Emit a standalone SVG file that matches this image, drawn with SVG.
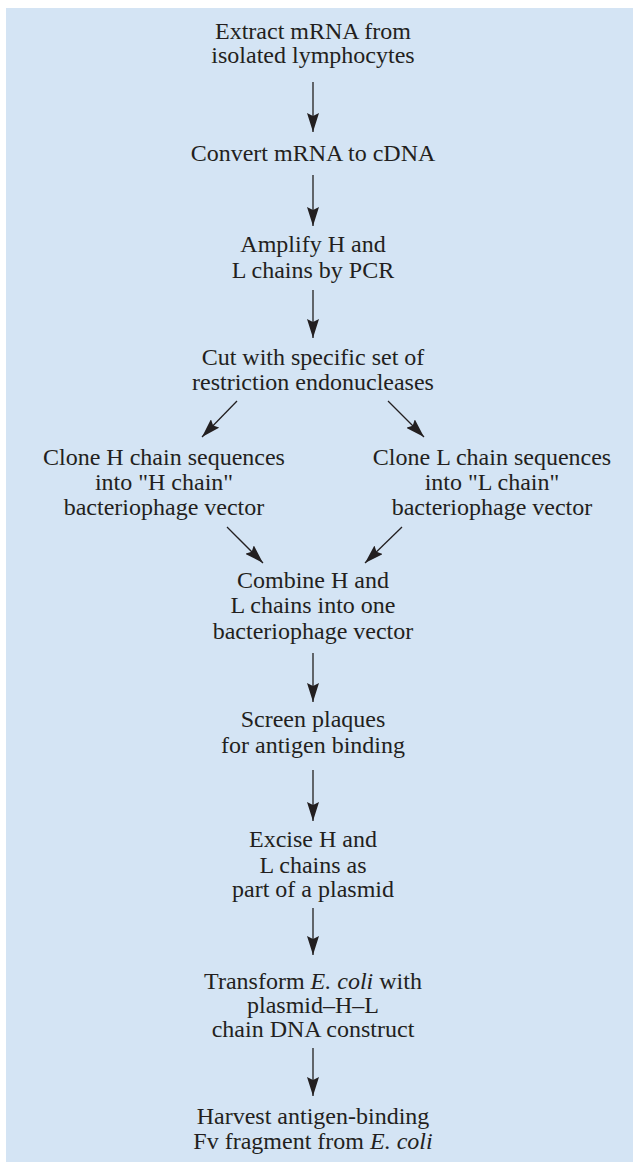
<svg xmlns="http://www.w3.org/2000/svg" width="635" height="1162" viewBox="0 0 635 1162">
<style>
text{font-family:"Liberation Serif","Times New Roman",serif;font-size:24px;fill:#231f20;text-anchor:middle}
.i{font-style:italic}
.c{stroke:#231f20;stroke-width:1.3;fill:none;marker-end:url(#ah)}
</style>
<defs>
<marker id="ah" markerUnits="userSpaceOnUse" markerWidth="20" markerHeight="12" refX="19" refY="6" orient="auto">
<path d="M0,0 L19,6 L0,12 L3,6 z" fill="#231f20"/>
</marker>
</defs>
<rect x="6" y="8" width="627" height="1154" fill="#d4e4f4"/>
<g id="n1"><text x="313" y="39">Extract mRNA from</text><text x="313" y="63">isolated lymphocytes</text></g>
<g id="n2"><text x="313" y="161">Convert mRNA to cDNA</text></g>
<g id="n3"><text x="313" y="252">Amplify H and</text><text x="313" y="278">L chains by PCR</text></g>
<g id="n4"><text x="313" y="365">Cut with specific set of</text><text x="313" y="390">restriction endonucleases</text></g>
<g id="n5"><text x="164" y="465">Clone H chain sequences</text><text x="164" y="490">into "H chain"</text><text x="164" y="515">bacteriophage vector</text></g>
<g id="n6"><text x="492" y="465">Clone L chain sequences</text><text x="492" y="490">into "L chain"</text><text x="492" y="515">bacteriophage vector</text></g>
<g id="n7"><text x="313" y="588">Combine H and</text><text x="313" y="613">L chains into one</text><text x="313" y="639">bacteriophage vector</text></g>
<g id="n8"><text x="313" y="727">Screen plaques</text><text x="313" y="753">for antigen binding</text></g>
<g id="n9"><text x="313" y="847">Excise H and</text><text x="313" y="873">L chains as</text><text x="313" y="897">part of a plasmid</text></g>
<g id="n10"><text x="313" y="989">Transform <tspan class="i">E. coli</tspan> with</text><text x="313" y="1013">plasmid–H–L</text><text x="313" y="1037">chain DNA construct</text></g>
<g id="n11"><text x="313" y="1124">Harvest antigen-binding</text><text x="313" y="1149">Fv fragment from <tspan class="i">E. coli</tspan></text></g>
<g id="connectors">
<line class="c" x1="313" y1="82" x2="313" y2="132"/>
<line class="c" x1="313" y1="175" x2="313" y2="226"/>
<line class="c" x1="313" y1="290" x2="313" y2="338"/>
<line class="c" x1="237" y1="401" x2="202" y2="437"/>
<line class="c" x1="388" y1="401" x2="424" y2="437"/>
<line class="c" x1="227" y1="527" x2="263" y2="563"/>
<line class="c" x1="402" y1="527" x2="365" y2="563"/>
<line class="c" x1="313" y1="653" x2="313" y2="702"/>
<line class="c" x1="313" y1="770" x2="313" y2="821"/>
<line class="c" x1="313" y1="908" x2="313" y2="955"/>
<line class="c" x1="313" y1="1048" x2="313" y2="1096"/>
</g>
</svg>
